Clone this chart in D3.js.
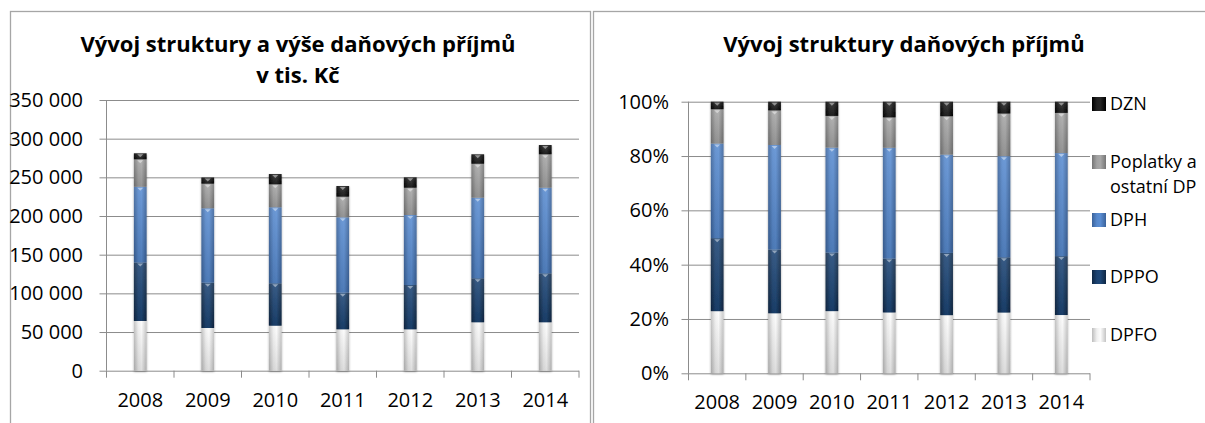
<!DOCTYPE html>
<html>
<head>
<meta charset="utf-8">
<script src="https://cdn.jsdelivr.net/npm/d3@7"></script>
<style>
  body { margin: 0; background: #fff; }
  svg { display: block; font-family: 'Open Sans', sans-serif; }
</style>
</head>
<body>
<svg id="chart" width="1205" height="423"></svg>
<script>
const years = ['2008', '2009', '2010', '2011', '2012', '2013', '2014']
const seriesNames = ['DPFO', 'DPPO', 'DPH', 'Poplatky a ostatní DP', 'DZN']
// v tis. Kč
const dpfo = [64300, 55200, 58200, 53500, 53500, 62600, 62600]
const dppo = [75600, 58600, 54800, 47400, 57300, 56900, 63300]
const dph = [97900, 96200, 98300, 97400, 90500, 104200, 110700]
const poplatky = [35500, 31800, 29700, 26700, 35300, 43900, 43200]
const dzn = [7800, 8000, 13300, 13800, 13400, 12200, 12000]
const leftTicks = [0, 50000, 100000, 150000, 200000, 250000, 300000, 350000]
const pctTicks = [0, 0.2, 0.4, 0.6, 0.8, 1]

const seriesValues = [dpfo, dppo, dph, poplatky, dzn]
const keys = seriesNames
const rows = years.map((yr, i) => {
  const r = { year: yr }
  keys.forEach((k, j) => { r[k] = seriesValues[j][i] })
  return r
})

const grads = {
  'DPFO': ['#bdbdbd', '#f0f0f0', '#fcfcfc', '#c4c4c4'],
  'DPPO': ['#0f2744', '#1c4372', '#1d4676', '#0f2744'],
  'DPH': ['#3a629a', '#5688cc', '#5a8dd2', '#3a629a'],
  'Poplatky a ostatní DP': ['#767676', '#a2a2a2', '#a8a8a8', '#767676'],
  'DZN': ['#000000', '#222222', '#262626', '#000000']
}

const svg = d3.select('#chart')
const defs = svg.append('defs')
keys.forEach((k, i) => {
  const g = defs.append('linearGradient').attr('id', 'g' + i)
    .attr('x1', 0).attr('x2', 1).attr('y1', 0).attr('y2', 0)
  const c = grads[k]
  g.append('stop').attr('offset', '0%').attr('stop-color', c[0])
  g.append('stop').attr('offset', '35%').attr('stop-color', c[1])
  g.append('stop').attr('offset', '60%').attr('stop-color', c[2])
  g.append('stop').attr('offset', '100%').attr('stop-color', c[3])
})
// slight vertical shading over each segment
const vg = defs.append('linearGradient').attr('id', 'vshade')
  .attr('x1', 0).attr('x2', 0).attr('y1', 0).attr('y2', 1)
vg.append('stop').attr('offset', '0%').attr('stop-color', '#fff').attr('stop-opacity', 0.12)
vg.append('stop').attr('offset', '100%').attr('stop-color', '#000').attr('stop-opacity', 0.12)

const f = defs.append('filter').attr('id', 'sh').attr('x', '-50%').attr('y', '-5%').attr('width', '200%').attr('height', '110%')
f.append('feDropShadow').attr('dx', 0).attr('dy', 1).attr('stdDeviation', 1.2)
  .attr('flood-color', '#000').attr('flood-opacity', 0.35)

const locale = d3.formatLocale({ decimal: ',', thousands: '\u00a0', grouping: [3], currency: ['', ' Kč'] })
const fmtNum = locale.format(',d')
const fmtPct = d3.format('.0%')

// panel borders
svg.append('rect').attr('x', 10.5).attr('y', 11.5).attr('width', 580).attr('height', 430)
  .attr('fill', 'none').attr('stroke', '#a6a6a6').attr('stroke-width', 1.3)
svg.append('rect').attr('x', 593.5).attr('y', 11.5).attr('width', 640).attr('height', 430)
  .attr('fill', 'none').attr('stroke', '#a6a6a6').attr('stroke-width', 1.3)

function drawPanel(opt) {
  const x = d3.scaleBand().domain(years).range([opt.x0, opt.x1]).padding(0)
  const y = d3.scaleLinear().domain(opt.domain).range([opt.yb, opt.yt])
  const g = svg.append('g')

  // gridlines
  g.append('g').attr('transform', `translate(${opt.x0 - 7},0)`)
    .call(d3.axisLeft(y).tickValues(opt.ticks).tickSize(-(opt.x1 - opt.x0 + 7)).tickFormat(''))
    .call(s => s.select('.domain').remove())
    .call(s => s.selectAll('line').attr('stroke', '#8c8c8c'))

  // labels
  g.append('g').attr('transform', `translate(${opt.x0},0)`)
    .call(d3.axisLeft(y).tickValues(opt.ticks).tickSize(0).tickPadding(opt.pad).tickFormat(opt.fmt))
    .call(s => s.select('.domain').remove())
    .call(s => s.selectAll('text').attr('font-size', 20).attr('fill', '#000').attr('font-family', "'Open Sans', sans-serif"))

  // y axis line
  g.append('line').attr('x1', opt.x0).attr('x2', opt.x0).attr('y1', y.range()[1]).attr('y2', y.range()[0])
    .attr('stroke', '#8c8c8c')

  // x axis
  const xa = g.append('g').attr('transform', `translate(0,${opt.yb})`)
    .call(d3.axisBottom(x).tickSize(0).tickPadding(opt.xpad))
  xa.select('.domain').remove()
  xa.selectAll('text').attr('font-size', 20).attr('fill', '#000').attr('font-family', "'Open Sans', sans-serif")
  const bounds = years.map(d => x(d)).concat([opt.x1])
  xa.selectAll('.tk').data(bounds).join('line').attr('class', 'tk')
    .attr('x1', d => d).attr('x2', d => d).attr('y1', 0).attr('y2', 7).attr('stroke', '#8c8c8c')

  // bars
  const stack = d3.stack().keys(keys)
  if (opt.expand) stack.offset(d3.stackOffsetExpand)
  const series = stack(rows)
  const bw = 12.7
  const layers = g.append('g').attr('filter', 'url(#sh)')
  series.forEach((s, i) => {
    const sg = layers.append('g')
    sg.selectAll('rect.seg').data(s).join('rect').attr('class', 'seg')
      .attr('x', d => x(d.data.year) + x.bandwidth() / 2 - bw / 2)
      .attr('width', bw)
      .attr('y', d => y(d[1]))
      .attr('height', d => y(d[0]) - y(d[1]))
      .attr('fill', `url(#g${i})`)
    sg.selectAll('rect.shade').data(s).join('rect').attr('class', 'shade')
      .attr('x', d => x(d.data.year) + x.bandwidth() / 2 - bw / 2)
      .attr('width', bw)
      .attr('y', d => y(d[1]))
      .attr('height', d => y(d[0]) - y(d[1]))
      .attr('fill', 'url(#vshade)')
  })
  // bevel triangles at segment tops
  series.forEach((s, i) => {
    if (i === 0) return
    g.append('g').selectAll('path').data(s).join('path')
      .attr('d', d => {
        const cx = x(d.data.year) + x.bandwidth() / 2
        const ty = y(d[1]) + 1
        return `M${cx - 3},${ty}L${cx + 3},${ty}L${cx},${ty + 3}Z`
      })
      .attr('fill', '#ffffff')
      .attr('opacity', 0.45)
  })
}

drawPanel({ x0: 106.5, x1: 579, yb: 370.7, yt: 100, domain: [0, 350000], ticks: leftTicks, fmt: fmtNum, pad: 23.5, xpad: 22, expand: false })
drawPanel({ x0: 688.5, x1: 1090, yb: 373.3, yt: 101.7, domain: [0, 1], ticks: pctTicks, fmt: fmtPct, pad: 19.5, xpad: 22, expand: true })

// titles
svg.append('text').attr('x', 298).attr('y', 52).attr('text-anchor', 'middle')
  .attr('font-size', 22).attr('font-weight', 'bold').text('Vývoj struktury a výše daňových příjmů')
svg.append('text').attr('x', 298).attr('y', 83).attr('text-anchor', 'middle')
  .attr('font-size', 22).attr('font-weight', 'bold').text('v tis. Kč')
svg.append('text').attr('x', 904).attr('y', 52).attr('text-anchor', 'middle')
  .attr('font-size', 22).attr('font-weight', 'bold').text('Vývoj struktury daňových příjmů')

// legend
const legendY = { 'DZN': 104, 'Poplatky a ostatní DP': 162, 'DPH': 220, 'DPPO': 277, 'DPFO': 335 }
const lg = svg.append('g')
keys.slice().reverse().forEach(k => {
  const i = keys.indexOf(k)
  const cy = legendY[k]
  lg.append('rect').attr('x', 1092).attr('y', cy - 7).attr('width', 14).attr('height', 14)
    .attr('fill', `url(#g${i})`)
  const lines = k === 'Poplatky a ostatní DP' ? ['Poplatky a', 'ostatní DP'] : [k]
  lines.forEach((t, j) => {
    lg.append('text').attr('x', 1110).attr('y', cy + j * 25).attr('dy', '0.36em')
      .attr('font-size', 18).text(t)
  })
})
</script>
</body>
</html>
